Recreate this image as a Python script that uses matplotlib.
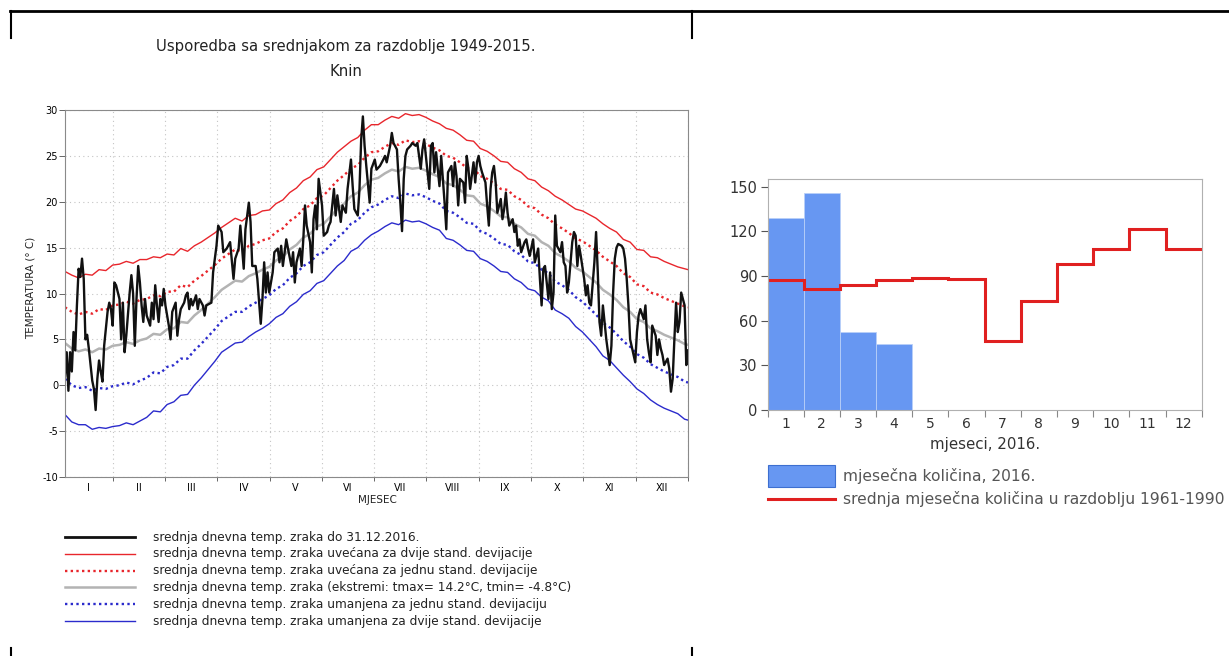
import numpy as np
import matplotlib
matplotlib.use("Agg")
import matplotlib.pyplot as plt
from matplotlib.lines import Line2D
from matplotlib.patches import Rectangle

plt.rcParams['font.family'] = ['DejaVu Sans']
plt.rcParams['axes.unicode_minus'] = False

# ---- daily temperature 2016 (Knin) ----
day_2016 = [0, 1, 2, 3, 4, 5, 6, 7, 8, 9, 10, 11, 12, 13, 14, 15, 16, 17, 18, 19,
            20, 21, 22, 23, 25, 26, 27, 28, 29, 30, 32, 33, 34, 35, 36, 38, 39, 40, 41, 42,
            43, 44, 45, 46, 47, 48, 50, 51, 52, 53, 54, 55, 56, 57, 58, 59, 61, 62, 63, 65,
            66, 67, 68, 70, 71, 72, 73, 74, 75, 77, 78, 79, 81, 82, 83, 85, 86, 87, 89, 90,
            92, 93, 95, 97, 99, 100, 102, 103, 105, 106, 108, 109, 110, 112, 113, 115, 116, 117, 118, 119,
            120, 122, 123, 125, 126, 127, 128, 130, 131, 133, 134, 135, 136, 138, 139, 140, 141, 142, 144, 145,
            146, 147, 148, 149, 151, 152, 154, 155, 156, 158, 159, 160, 162, 163, 165, 166, 168, 169, 170, 172,
            173, 174, 175, 176, 177, 179, 180, 182, 183, 185, 187, 188, 189, 191, 192, 193, 195, 196, 197, 198,
            199, 200, 201, 203, 204, 206, 207, 209, 210, 211, 212, 213, 214, 215, 216, 217, 218, 220, 221, 222,
            223, 224, 225, 227, 228, 229, 230, 231, 232, 234, 235, 236, 237, 238, 240, 241, 242, 243, 244, 245,
            247, 248, 249, 250, 251, 252, 253, 254, 256, 257, 258, 259, 260, 261, 263, 264, 265, 266, 267, 268,
            270, 271, 272, 273, 275, 276, 278, 279, 280, 281, 282, 284, 285, 286, 287, 288, 289, 291, 292, 293,
            294, 295, 296, 298, 299, 300, 301, 302, 303, 305, 306, 307, 308, 309, 311, 312, 313, 314, 315, 316,
            317, 318, 320, 321, 322, 323, 324, 325, 327, 328, 329, 330, 331, 332, 334, 335, 336, 337, 338, 340,
            341, 342, 343, 344, 345, 347, 348, 349, 350, 351, 352, 354, 355, 356, 357, 358, 359, 360, 361, 362,
            364, 365, 366]
temp_2016 = [1.0, 3.6, -0.6, 3.6, 1.5, 5.8, 3.8, 8.7, 12.7, 11.8, 13.8, 11.6, 5.0, 5.5, 4.0, 2.2, 0.5, -0.4, -2.7, 0.7,
             2.7, 1.5, 0.4, 4.3, 8.0, 9.0, 8.3, 6.5, 11.2, 10.9, 9.4, 5.0, 9.0, 3.6, 5.4, 10.1, 12.0, 10.0, 4.3, 9.4,
             13.0, 11.2, 8.7, 6.9, 9.4, 7.6, 6.5, 9.0, 7.2, 10.9, 8.7, 6.9, 9.4, 8.7, 10.5, 8.7, 6.5, 5.0, 8.0, 9.0,
             5.4, 7.2, 8.3, 9.0, 9.8, 10.1, 8.3, 9.4, 8.7, 9.8, 8.3, 9.4, 8.7, 7.6, 8.7, 8.9, 9.0, 12.3, 15.2, 17.4,
             16.7, 14.5, 14.9, 15.6, 11.6, 13.8, 14.9, 17.4, 12.7, 17.0, 19.9, 17.8, 13.0, 13.0, 11.6, 6.7, 9.4, 13.4, 10.1, 12.3,
             10.1, 12.3, 14.5, 14.9, 13.4, 15.2, 13.0, 15.9, 14.9, 13.0, 14.5, 11.2, 13.4, 14.9, 13.0, 15.9, 19.6, 17.4, 15.6, 12.3,
             18.1, 19.6, 17.0, 22.5, 19.6, 16.3, 16.7, 17.4, 17.8, 21.4, 18.5, 20.7, 17.8, 19.6, 18.8, 21.4, 24.6, 21.7, 19.2, 18.5,
             21.4, 26.8, 29.3, 26.1, 23.9, 19.9, 23.6, 24.6, 23.5, 23.9, 24.6, 25.0, 24.3, 26.1, 27.5, 26.4, 25.7, 22.5, 19.9, 16.8,
             22.5, 25.0, 25.7, 26.1, 26.4, 26.1, 26.4, 23.6, 25.7, 26.8, 25.0, 23.2, 21.4, 26.1, 26.4, 23.2, 25.4, 21.7, 25.0, 22.5,
             19.9, 17.0, 23.2, 23.9, 21.7, 24.3, 22.8, 19.6, 22.5, 22.1, 19.9, 25.0, 23.6, 21.4, 24.3, 22.1, 24.3, 25.0, 23.9, 23.2,
             22.1, 19.6, 17.4, 21.4, 23.2, 23.9, 22.1, 18.8, 20.3, 18.1, 19.2, 21.0, 18.8, 17.4, 18.1, 16.7, 17.4, 15.2, 15.9, 14.5,
             15.6, 15.9, 14.9, 14.1, 15.9, 13.4, 14.9, 11.6, 8.7, 12.7, 13.0, 9.4, 12.3, 8.3, 10.1, 18.5, 15.2, 14.5, 15.6, 13.4,
             13.0, 10.1, 11.2, 15.6, 16.7, 16.3, 13.0, 15.2, 14.1, 11.6, 9.8, 10.9, 9.0, 8.7, 13.4, 16.7, 12.3, 6.9, 5.4, 8.7,
             6.9, 5.0, 2.2, 4.3, 10.1, 13.8, 15.0, 15.4, 15.2, 14.9, 13.8, 11.6, 8.7, 5.0, 3.3, 2.5, 5.8, 7.6, 8.3, 7.2,
             8.7, 5.0, 3.6, 2.5, 6.5, 5.4, 3.3, 5.0, 4.0, 3.3, 2.2, 2.9, 1.8, -0.7, 0.7, 5.0, 9.0, 5.8, 6.9, 10.1,
             8.7, 2.2, 3.8]

# ---- climatology 1949-2015: mean daily temperature and standard deviation ----
day_clim = [0, 4, 8, 12, 16, 20, 24, 28, 32, 36, 40, 44, 48, 52, 56, 60, 64, 68, 72, 76,
            80, 84, 88, 92, 96, 100, 104, 108, 112, 116, 120, 124, 128, 132, 136, 140, 144, 148, 152, 156,
            160, 164, 168, 172, 176, 180, 184, 188, 192, 196, 200, 204, 208, 212, 216, 220, 224, 228, 232, 236,
            240, 244, 248, 252, 256, 260, 264, 268, 272, 276, 280, 284, 288, 292, 296, 300, 304, 308, 312, 316,
            320, 324, 328, 332, 336, 340, 344, 348, 352, 356, 360, 364, 366]
mean_clim = [4.6, 4.0, 3.7, 3.9, 3.6, 4.0, 3.9, 4.3, 4.4, 4.7, 4.5, 4.9, 5.1, 5.6, 5.5, 6.1, 6.2, 6.9, 6.8, 7.6,
             8.2, 8.9, 9.6, 10.4, 10.9, 11.4, 11.3, 11.9, 12.2, 12.6, 12.9, 13.6, 14.0, 14.8, 15.3, 16.1, 16.5, 17.3, 17.6, 18.4,
             19.2, 19.8, 20.6, 21.0, 21.8, 22.4, 22.6, 23.1, 23.5, 23.3, 23.8, 23.6, 23.7, 23.4, 23.0, 22.7, 22.0, 21.8, 21.3, 20.7,
             20.6, 19.8, 19.5, 19.0, 18.4, 18.3, 17.6, 17.2, 16.5, 16.3, 15.6, 15.2, 14.4, 14.0, 13.5, 12.8, 12.4, 11.8, 11.2, 10.4,
             9.9, 9.3, 8.5, 8.0, 7.2, 6.9, 6.2, 5.9, 5.5, 5.2, 4.9, 4.5, 4.4]
sd_clim = [3.9, 4.0, 4.0, 4.1, 4.2, 4.3, 4.3, 4.4, 4.4, 4.4, 4.4, 4.4, 4.3, 4.2, 4.2, 4.1, 4.0, 4.0, 3.9, 3.8,
           3.7, 3.6, 3.5, 3.4, 3.4, 3.4, 3.3, 3.3, 3.2, 3.2, 3.1, 3.1, 3.1, 3.1, 3.1, 3.1, 3.1, 3.1, 3.1, 3.1,
           3.1, 3.1, 3.0, 3.0, 3.0, 3.0, 2.9, 2.9, 2.9, 2.9, 2.9, 2.9, 2.9, 2.9, 2.9, 2.9, 3.0, 3.0, 3.0, 3.0,
           3.0, 3.0, 3.0, 3.0, 3.0, 3.0, 3.0, 3.0, 3.0, 3.0, 3.0, 3.0, 3.1, 3.1, 3.1, 3.2, 3.3, 3.4, 3.5, 3.6,
           3.6, 3.7, 3.7, 3.8, 3.8, 3.9, 3.9, 4.0, 4.0, 4.0, 4.0, 4.1, 4.1]

month_roman = ['I', 'II', 'III', 'IV', 'V', 'VI', 'VII', 'VIII', 'IX', 'X', 'XI', 'XII']

# ---- precipitation (right chart) ----
months = np.arange(1, 13)
rain_2016 = [129, 146, 52, 44]
rain_mean_1961_1990 = [87, 81, 84, 87, 89, 88, 46, 73, 98, 108, 122, 108]

W, H = 1229, 656
fig = plt.figure(figsize=(W / 100, H / 100), dpi=100)


def fx(px):
    return px / W


def fy(py):
    return 1 - py / H


# ---------------- left chart ----------------
ax = fig.add_axes([fx(65), fy(477), fx(688) - fx(65), fy(110) - fy(477)])

d = np.array(day_clim)
m = np.array(mean_clim)
s = np.array(sd_clim)
red = '#e8262c'
blue = '#2b2bcc'
dots = (0, (1, 1.4))

ax.plot(d, m + 2 * s, color=red, lw=1.0)
ax.plot(d, m + s, color=red, lw=1.7, ls=dots)
ax.plot(d, m, color='#b3b3b3', lw=1.8)
ax.plot(d, m - s, color=blue, lw=1.7, ls=dots)
ax.plot(d, m - 2 * s, color=blue, lw=1.0)
ax.plot(day_2016, temp_2016, color='#111111', lw=1.7)

ax.set_xlim(0, 366)
ax.set_ylim(-10, 30)
ax.set_yticks(np.arange(-10, 31, 5))
ax.tick_params(axis='y', labelsize=7, length=4, width=0.7, color='#666', pad=1)

edges = np.linspace(28.0, 366, 12)
ax.set_xticks(edges)
ax.set_xticklabels([])
ax.tick_params(axis='x', which='major', length=3, width=0.7, color='#666')
centers = np.concatenate([[edges[0] / 2], (edges[:-1] + edges[1:]) / 2])
ax.set_xticks(centers, minor=True)
ax.set_xticklabels(month_roman, minor=True, fontsize=7)
ax.tick_params(axis='x', which='minor', length=0, pad=4)

ax.grid(True, which='major', color='#c4c4c4', lw=0.8, ls=(0, (1, 3)))
for sp in ax.spines.values():
    sp.set_color('#8a8a8a')
    sp.set_linewidth(0.8)

fig.text(fx(346), fy(47), 'Usporedba sa srednjakom za razdoblje 1949-2015.', ha='center', va='center',
         fontsize=10.7, color='#222')
fig.text(fx(346), fy(72), 'Knin', ha='center', va='center', fontsize=10.7, color='#222')
fig.text(fx(377), fy(500), 'MJESEC', ha='center', va='center', fontsize=7.5, color='#222')
fig.text(fx(31), fy(288), 'TEMPERATURA (° C)', ha='center', va='center', rotation=90,
         fontsize=7.5, color='#222')

legend_rows = [
    ('#111111', 2.0, '-', 'srednja dnevna temp. zraka do 31.12.2016.'),
    (red, 1.0, '-', 'srednja dnevna temp. zraka uvećana za dvije stand. devijacije'),
    (red, 1.7, dots, 'srednja dnevna temp. zraka uvećana za jednu stand. devijacije'),
    ('#b3b3b3', 1.8, '-', 'srednja dnevna temp. zraka (ekstremi: tmax= 14.2°C, tmin= -4.8°C)'),
    (blue, 1.7, dots, 'srednja dnevna temp. zraka umanjena za jednu stand. devijaciju'),
    (blue, 1.0, '-', 'srednja dnevna temp. zraka umanjena za dvije stand. devijacije'),
]
for i, (c, lw, ls, txt) in enumerate(legend_rows):
    yy = 537 + i * 16.8
    fig.add_artist(Line2D([fx(65), fx(135)], [fy(yy), fy(yy)], color=c, lw=lw, ls=ls,
                          transform=fig.transFigure))
    fig.text(fx(153), fy(yy), txt, ha='left', va='center', fontsize=8.7, color='#222')

# ---------------- right chart ----------------
ax2 = fig.add_axes([fx(767.5), fy(409.7), fx(1201.7) - fx(767.5), fy(178.6) - fy(409.7)])
ax2.bar(months[:len(rain_2016)], rain_2016, width=1.0, color='#6797f2', edgecolor='#b9cff8', lw=0.6)
ax2.stairs(rain_mean_1961_1990, np.arange(0.5, 13.5), color='#e02020', lw=2.2, baseline=None)
ax2.set_xlim(0.5, 12.5)
ax2.set_ylim(0, 155.6)
ax2.set_yticks(np.arange(0, 151, 30))
ax2.tick_params(axis='y', labelsize=10.5, length=5, width=0.8, color='#555', labelcolor='#333', pad=2)
ax2.set_xticks(np.arange(0.5, 13.5))
ax2.set_xticklabels([])
ax2.tick_params(axis='x', which='major', length=5, width=0.8, color='#888')
ax2.set_xticks(months, minor=True)
ax2.set_xticklabels([str(k) for k in months], minor=True, fontsize=10, color='#333')
ax2.tick_params(axis='x', which='minor', length=0, pad=5)
for sp in ax2.spines.values():
    sp.set_color('#b0b0b0')
    sp.set_linewidth(0.8)

fig.text(fx(985), fy(444), 'mjeseci, 2016.', ha='center', va='center', fontsize=10.8, color='#333')
fig.add_artist(Rectangle((fx(768), fy(487)), fx(835) - fx(768), fy(465) - fy(487),
                         facecolor='#6797f2', edgecolor='#3d6fd0', lw=0.8, transform=fig.transFigure))
fig.text(fx(843), fy(476), 'mjesečna količina, 2016.', ha='left', va='center', fontsize=11.2, color='#555')
fig.add_artist(Line2D([fx(768), fx(835)], [fy(499), fy(499)], color='#e02020', lw=2.2,
                      transform=fig.transFigure))
fig.text(fx(843), fy(499), 'srednja mjesečna količina u razdoblju 1961-1990', ha='left', va='center',
         fontsize=11.2, color='#555')

# ---------------- page table borders ----------------
for xs, ys, lw in [([10, 1229], [11, 11], 2.0), ([11, 11], [11, 38], 1.5), ([692, 692], [11, 38], 1.5),
                   ([11, 11], [648, 656], 1.5), ([692, 692], [648, 656], 1.5)]:
    fig.add_artist(Line2D([fx(v) for v in xs], [fy(v) for v in ys], color='black', lw=lw,
                          transform=fig.transFigure))

fig.savefig('out.png', dpi=100)
